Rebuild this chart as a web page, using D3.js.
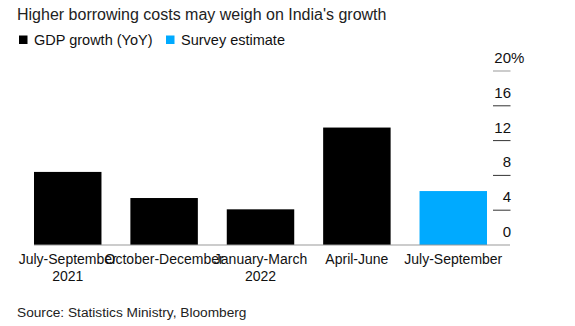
<!DOCTYPE html>
<html>
<head>
<meta charset="utf-8">
<script src="https://cdn.jsdelivr.net/npm/d3@7"></script>
<style>
  body { margin: 0; background: #fff; }
  svg { display: block; font-family: "Liberation Sans", Arial, sans-serif; }
</style>
</head>
<body>
<svg id="chart" width="575" height="326"></svg>
<script>
const quarters = ["Jul-Sep 2021", "Oct-Dec 2021", "Jan-Mar 2022", "Apr-Jun 2022", "Jul-Sep 2022"]
const quarterLabels = [["July-September", "2021"], ["October-December"], ["January-March", "2022"], ["April-June"], ["July-September"]]
const growth = [8.4, 5.4, 4.1, 13.5, 6.2]
const isEstimate = [false, false, false, false, true]
const yTicks = [0, 4, 8, 12, 16, 20]

const svg = d3.select('#chart')

const x = d3.scaleBand(quarters, [34, 487]).paddingInner(0.3).paddingOuter(0)
const y = d3.scaleLinear([0, 20], [245, 71])

// title + legend
svg.append('text')
    .attr('x', 17).attr('y', 20)
    .attr('font-size', 16).attr('fill', '#222')
    .text("Higher borrowing costs may weigh on India's growth")

const legend = [["GDP growth (YoY)", "#000", 19], ["Survey estimate", "#00aaff", 166]]
legend.forEach(([label, color, lx]) => {
    svg.append('rect').attr('x', lx).attr('y', 35.5).attr('width', 8.5).attr('height', 8.5).attr('fill', color)
    svg.append('text').attr('x', lx + 15).attr('y', 45)
        .attr('font-size', 14.5).attr('fill', '#111').text(label)
})

// bars
svg.selectAll('rect.bar')
    .data(quarters)
    .join('rect')
    .attr('class', 'bar')
    .attr('x', d => x(d))
    .attr('width', x.bandwidth())
    .attr('y', (d, i) => y(growth[i]))
    .attr('height', (d, i) => y(0) - y(growth[i]))
    .attr('fill', (d, i) => isEstimate[i] ? '#00aaff' : '#000')

// baseline
svg.append('line')
    .attr('x1', 34).attr('x2', 510)
    .attr('y1', y(0)).attr('y2', y(0))
    .attr('stroke', '#999').attr('stroke-width', 1)

// right-hand value axis, labels sit above each tick
const ticks = svg.append('g')
ticks.selectAll('line')
    .data(yTicks.filter(t => t > 0))
    .join('line')
    .attr('x1', 493).attr('x2', 510.5)
    .attr('y1', d => y(d)).attr('y2', d => y(d))
    .attr('stroke', d => d === 20 ? '#999' : '#333')
ticks.selectAll('text.num')
    .data(yTicks)
    .join('text')
    .attr('class', 'num')
    .attr('x', 511).attr('y', d => y(d) - 8)
    .attr('text-anchor', 'end')
    .attr('font-size', 15).attr('fill', '#111')
    .text(d => d)
// the unit hangs past the digits on the top label
ticks.append('text')
    .attr('x', 511).attr('y', y(20) - 8)
    .attr('font-size', 15).attr('fill', '#111')
    .text('%')

// category labels
svg.selectAll('text.cat')
    .data(quarters)
    .join('text')
    .attr('class', 'cat')
    .attr('text-anchor', 'middle')
    .attr('font-size', 14).attr('fill', '#111')
    .each(function (d, i) {
        const t = d3.select(this)
        quarterLabels[i].forEach((line, k) => {
            t.append('tspan')
                .attr('x', x(d) + x.bandwidth() / 2)
                .attr('y', 264 + k * 16.5)
                .text(line)
        })
    })

// source
svg.append('text')
    .attr('x', 17).attr('y', 317)
    .attr('font-size', 13.7).attr('fill', '#222')
    .text('Source: Statistics Ministry, Bloomberg')
</script>
</body>
</html>
